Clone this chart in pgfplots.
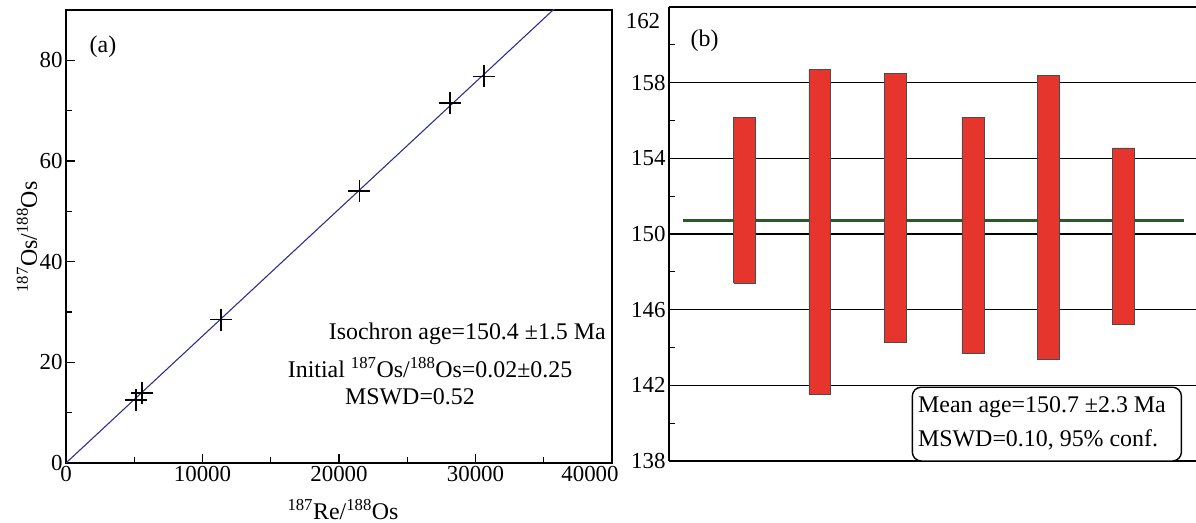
\documentclass[border=0pt]{standalone}
\usepackage{pgfplots}
\pgfplotsset{compat=1.18}
\usepackage{fontspec}
\setmainfont{Liberation Serif}
\definecolor{fitblue}{RGB}{46,49,146}
\definecolor{barred}{RGB}{229,53,45}
\definecolor{meangreen}{RGB}{40,90,40}
\begin{document}
\begin{tikzpicture}[x=1bp,y=1bp]
\useasboundingbox (0,0) rectangle (1196,523);
\pgfplotsset{
  every axis/.append style={
    scale only axis,
    anchor=south west,
    clip mode=individual,
    tick align=inside,
    tick pos=left,
    major tick length=9bp,
    minor tick length=6bp,
    axis line style={line width=1.8bp},
    every tick/.style={line width=1.2bp, black},
    minor tick style={line width=1.2bp, black},
    tick label style={font=\fontsize{23}{26}\selectfont},
    /pgf/number format/assume math mode=true,
    /pgf/number format/1000 sep={},
    scaled ticks=false,
  }
}
% ---------- panel (a)
\begin{axis}[
  at={(66bp,60bp)},
  width=546bp, height=453bp,
  xmin=0, xmax=40000, ymin=0, ymax=90,
  xtick={0,10000,20000,30000,40000},
  xticklabels={0,10000,20000,30000,{\hspace*{-44bp}40000}},
  minor xtick={5000,15000,25000,35000},
  ytick={0,20,40,60,80},
  minor ytick={10,30,50,70},
]
\addplot[color=fitblue, line width=1.1bp] coordinates {(0,0) (36000,90.8)};
\addplot[only marks, mark=+, mark size=11bp, mark options={line width=1.8bp, black}] coordinates {
  (5130,12.5) (5590,13.9) (11370,28.5) (21500,54.0) (28130,71.5) (30600,76.8)};
\node[anchor=center, font=\fontsize{24}{28}\selectfont] at (axis cs:2710,82.6) {(a)};
\node[anchor=east, font=\fontsize{24}{28}\selectfont] at (axis cs:39800,25.6) {Isochron age=150.4 ±1.5 Ma};
\node[anchor=center, font=\fontsize{24}{28}\selectfont] at (axis cs:26670,18.9) {Initial \textsuperscript{187}Os/\textsuperscript{188}Os=0.02±0.25};
\node[anchor=center, font=\fontsize{24}{28}\selectfont] at (axis cs:25200,13.1) {MSWD=0.52};
\end{axis}
\node[font=\fontsize{24}{28}\selectfont] at (343,13) {\textsuperscript{187}Re/\textsuperscript{188}Os};
\node[rotate=90, font=\fontsize{24}{28}\selectfont] at (27,286) {\textsuperscript{187}Os/\textsuperscript{188}Os};
% ---------- panel (b)
\begin{axis}[
  at={(669bp,62bp)},
  width=530.6bp, height=454bp,
  xmin=0, xmax=7, ymin=138, ymax=162,
  axis x line*=box, axis y line*=left,
  xtick=\empty,
  ytick={138,142,146,150,154,158,162},
  yticklabels={138,142,146,150,154,158,{}},
  minor ytick={140,144,148,152,156,160},
  ymajorgrids,
  grid style={black, line width=1.4bp},
]
\addplot[color=meangreen, line width=2.8bp] coordinates {(0.18,150.7) (6.8,150.7)};
\addplot[fill=barred, draw=black!70, line width=0.7bp] coordinates {(0.855,147.4) (1.145,147.4) (1.145,156.15) (0.855,156.15) (0.855,147.4)};
\addplot[fill=barred, draw=black!70, line width=0.7bp] coordinates {(1.845,141.5) (2.135,141.5) (2.135,158.7) (1.845,158.7) (1.845,141.5)};
\addplot[fill=barred, draw=black!70, line width=0.7bp] coordinates {(2.845,144.25) (3.135,144.25) (3.135,158.5) (2.845,158.5) (2.845,144.25)};
\addplot[fill=barred, draw=black!70, line width=0.7bp] coordinates {(3.865,143.7) (4.155,143.7) (4.155,156.15) (3.865,156.15) (3.865,143.7)};
\addplot[fill=barred, draw=black!70, line width=0.7bp] coordinates {(4.855,143.35) (5.145,143.35) (5.145,158.4) (4.855,158.4) (4.855,143.35)};
\addplot[fill=barred, draw=black!70, line width=0.7bp] coordinates {(5.855,145.2) (6.145,145.2) (6.145,154.55) (5.855,154.55) (5.855,145.2)};
\draw[rounded corners=9bp, line width=1.4bp, fill=white] (axis cs:3.21,138.0) rectangle (axis cs:6.76,141.9);
\node[anchor=west, font=\fontsize{24}{28}\selectfont] at (axis cs:3.24,140.85) {Mean age=150.7 ±2.3 Ma};
\node[anchor=west, font=\fontsize{24}{28}\selectfont] at (axis cs:3.24,139.1) {MSWD=0.10, 95\% conf.};
\node[anchor=center, font=\fontsize{24}{28}\selectfont] at (axis cs:0.47,160.2) {(b)};
\node[anchor=east, font=\fontsize{23}{26}\selectfont] at (axis cs:-0.07,161.25) {162};
\end{axis}
\end{tikzpicture}
\end{document}
